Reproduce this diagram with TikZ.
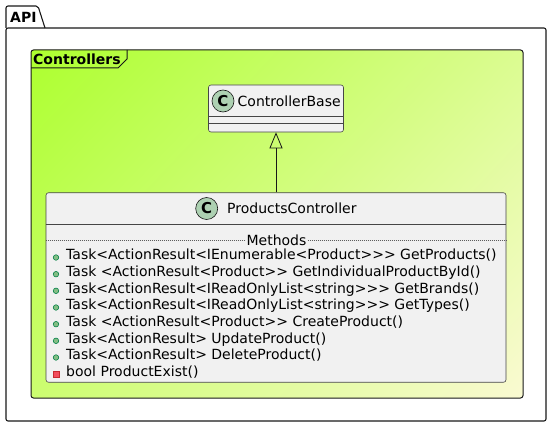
\documentclass[tikz,border=0pt]{standalone}
\usepackage{fontspec}
\setmainfont{DejaVu Sans}
\usepackage{tikz}
\usetikzlibrary{arrows.meta, positioning, shadings}
\definecolor{edge}{HTML}{181818}
\definecolor{grA}{HTML}{ADFF2F}
\definecolor{grB}{HTML}{FAFAD2}
\definecolor{clsbg}{HTML}{F1F1F1}
\definecolor{circC}{HTML}{ADD1B2}
\definecolor{pubfill}{HTML}{84BE84}
\definecolor{publine}{HTML}{038048}
\definecolor{privfill}{HTML}{F24D5C}
\definecolor{privline}{HTML}{C82930}
\tikzset{
  pkg/.style={draw=edge, line width=1.1pt, line join=round},
  % frame of the Controllers group, diagonal gradient
  frm/.style={rectangle, rounded corners=2.5pt, draw=edge, line width=1pt, inner sep=0pt,
              shade, upper left=grA, lower right=grB, upper right=grA!40!grB, lower left=grA!60!grB},
  % class box
  cls/.style={rectangle, rounded corners=2.5pt, draw=edge!80, line width=0.6pt, fill=clsbg, inner sep=0pt},
  cline/.style={draw=edge!80, line width=0.6pt},
  ttl/.style={font=\fontsize{14}{16}\selectfont\bfseries, inner sep=0pt, anchor=west},
  cname/.style={font=\fontsize{14}{16}\selectfont, inner sep=0pt, anchor=west},
  cicon/.style={circle, draw=edge, line width=0.6pt, fill=circC, minimum size=22pt, inner sep=0pt,
                font=\fontsize{15}{16}\selectfont\bfseries},
  mtxt/.style={font=\fontsize{14}{16}\selectfont, inner sep=0pt, anchor=west, text height=10.5pt, text depth=3pt},
  pub/.style={circle, draw=publine, fill=pubfill, minimum size=5.5pt, inner sep=0pt, line width=0.6pt},
  priv/.style={rectangle, draw=privline, fill=privfill, minimum size=6pt, inner sep=0pt, line width=0.5pt},
  sepl/.style={draw=edge!70, line width=0.5pt, dash pattern=on 1pt off 1pt},
  inh/.style={-{Triangle[open, length=16pt, width=13pt]}, draw=edge, line width=0.8pt}
}
\begin{document}
\begin{tikzpicture}[x=1pt,y=-1pt]
    \useasboundingbox (0,0) rectangle (552,428);
    % ---- package API ----
    \draw[pkg] (6,28) -- (6,9) [rounded corners=2pt] -- (6,6) -- (38,6) [sharp corners] -- (45,28);
    \draw[pkg, rounded corners=2pt] (6,28) rectangle (546,421);
    \node[ttl] (apilbl) at (10,17) {API};

    % ---- frame Controllers ----
    \node[frm, minimum width=492pt, minimum height=348pt] (ctl) at (277,224) {};
    \draw[pkg, line width=1pt] (31,68) -- (118,68) -- (127,59) -- (127,50);
    \node[ttl] (ctllbl) at (33,59) {Controllers};

    % ---- ControllerBase ----
    \node[cls, minimum width=135pt, minimum height=47pt] (cb) at (276,108.5) {};
    \draw[cline] ([yshift=-32pt]cb.north west) -- ([yshift=-32pt]cb.north east);
    \draw[cline] ([yshift=-39pt]cb.north west) -- ([yshift=-39pt]cb.north east);
    \node[cicon] (cbicon) at (223,101) {C};
    \node[cname] (cbname) at (237.5,101) {ControllerBase};

    % ---- ProductsController ----
    \node[cls, minimum width=460pt, minimum height=189.5pt] (pc) at (276,287.5) {};
    \draw[cline] ([yshift=-31.5pt]pc.north west) -- ([yshift=-31.5pt]pc.north east);
    \draw[sepl] ([yshift=-47.5pt]pc.north west) -- ([yshift=-47.5pt]pc.north east);
    \node[cicon] (pcicon) at (206.7,208.5) {C};
    \node[cname] (pcname) at (227,208.5) {ProductsController};
    \node[cname, anchor=center, fill=clsbg, inner sep=1pt] (sep) at (276.5,240) {Methods};

    % methods
    \node[pub] (b1) at (56,257.5) {};  \node[mtxt] (m1) at (66,256)   {Task<ActionResult<IEnumerable<Product>{}>{}> GetProducts()};
    \node[pub] (b2) at (56,274.2) {};  \node[mtxt] (m2) at (66,272.7) {Task <ActionResult<Product>{}> GetIndividualProductById()};
    \node[pub] (b3) at (56,290.8) {};  \node[mtxt] (m3) at (66,289.3) {Task<ActionResult<IReadOnlyList<string>{}>{}> GetBrands()};
    \node[pub] (b4) at (56,307.5) {};  \node[mtxt] (m4) at (66,306)   {Task<ActionResult<IReadOnlyList<string>{}>{}> GetTypes()};
    \node[pub] (b5) at (56,324.2) {};  \node[mtxt] (m5) at (66,322.7) {Task <ActionResult<Product>{}> CreateProduct()};
    \node[pub] (b6) at (56,340.8) {};  \node[mtxt] (m6) at (66,339.3) {Task<ActionResult> UpdateProduct()};
    \node[pub] (b7) at (56,357.5) {};  \node[mtxt] (m7) at (66,356)   {Task<ActionResult> DeleteProduct()};
    \node[priv] (b8) at (56,374.2) {}; \node[mtxt] (m8) at (66,372.7) {bool ProductExist()};

    % inheritance
    \draw[inh] (pc.north) -- (cb.south);
\end{tikzpicture}
\end{document}
